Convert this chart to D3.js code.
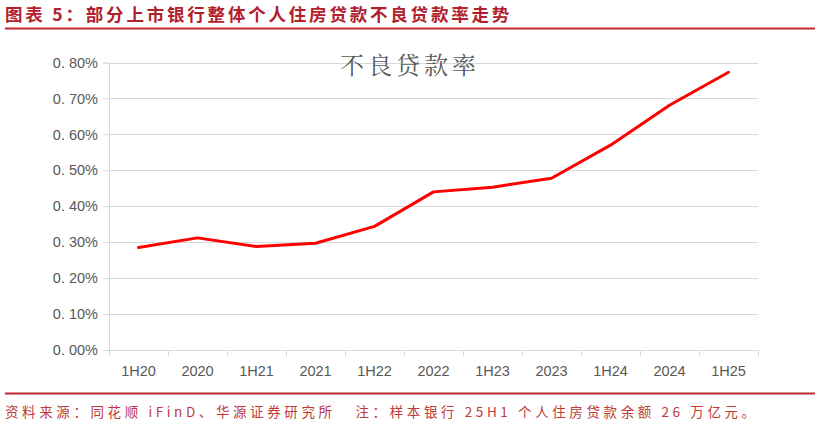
<!DOCTYPE html>
<html><head><meta charset="utf-8">
<script src="https://cdn.jsdelivr.net/npm/d3@7"></script>
<style>
html,body{margin:0;padding:0;background:#fff;}
svg{display:block;}
</style></head>
<body>
<svg id="c" width="815" height="427"></svg>
<script>
const categories = ["1H20","2020","1H21","2021","1H22","2022","1H23","2023","1H24","2024","1H25"];
const nplRate = [0.285,0.312,0.288,0.297,0.344,0.440,0.453,0.478,0.570,0.681,0.773];
const yTicks = [0,0.1,0.2,0.3,0.4,0.5,0.6,0.7,0.8];
const titleText = "图表 5：部分上市银行整体个人住房贷款不良贷款率走势";
const chartTitle = "不良贷款率";
const sourceText = "资料来源：同花顺 iFinD、华源证券研究所   注：样本银行 25H1 个人住房贷款余额 26 万亿元。";

const svg = d3.select("#c");
const red = "#C0282E";
const cjk = "'Noto Sans CJK SC','Noto Sans',sans-serif";

// header
svg.append("text").attr("x",5).attr("y",21).attr("fill","#B2202C")
  .attr("font-family",cjk).attr("font-weight","bold").attr("font-size",17.5)
  .attr("letter-spacing",2.8)
  .text(titleText);
svg.append("line").attr("x1",5).attr("x2",815).attr("y1",28.5).attr("y2",28.5)
  .attr("stroke",red).attr("stroke-width",2);

// footer
svg.append("line").attr("x1",5).attr("x2",815).attr("y1",393.5).attr("y2",393.5)
  .attr("stroke",red).attr("stroke-width",2);
svg.append("text").attr("x",5).attr("y",417).attr("fill","#C0393B")
  .attr("font-family",cjk).attr("font-size",13.5).attr("letter-spacing",3.6)
  .attr("xml:space","preserve").style("white-space","pre")
  .text(sourceText);

const mLeft = 109, mRight = 758, mTop = 62.5, mBottom = 350;
const x = d3.scaleBand().domain(categories).range([mLeft,mRight]).padding(0);
const y = d3.scaleLinear().domain([0,0.8]).range([mBottom,mTop]);

// gridlines
svg.append("g").selectAll("line").data(yTicks.filter(d=>d>0)).join("line")
  .attr("x1",mLeft).attr("x2",mRight)
  .attr("y1",d=>Math.round(y(d))+0.5).attr("y2",d=>Math.round(y(d))+0.5)
  .attr("stroke","#D9D9D9").attr("stroke-width",1);

// y axis
const yAxis = svg.append("g").attr("transform",`translate(${mLeft},0)`)
  .call(d3.axisLeft(y).tickValues(yTicks).tickSize(6).tickFormat(d=>d3.format(".2f")(d).replace(".",". ")+"%"));
yAxis.select(".domain").attr("stroke","#D9D9D9");
yAxis.selectAll(".tick line").attr("stroke","#D9D9D9");
yAxis.selectAll(".tick text").attr("font-family","'Liberation Sans',Arial,sans-serif")
  .attr("font-size",14.5).attr("fill","#595959").attr("x",-11).style("white-space","pre");

// x axis
const xAxis = svg.append("g").attr("transform",`translate(0,${mBottom})`)
  .call(d3.axisBottom(x).tickSize(0).tickPadding(16));
xAxis.select(".domain").attr("stroke","#D9D9D9");
xAxis.selectAll(".tick text").attr("font-family","'Liberation Sans',Arial,sans-serif")
  .attr("font-size",14.5).attr("fill","#595959");
// category boundary ticks
const bounds = categories.map(c=>x(c)).concat([x(categories[categories.length-1])+x.bandwidth()]);
svg.append("g").selectAll("line").data(bounds).join("line")
  .attr("x1",d=>Math.round(d)+0.5).attr("x2",d=>Math.round(d)+0.5)
  .attr("y1",mBottom).attr("y2",mBottom+6)
  .attr("stroke","#D9D9D9");

// chart title
svg.append("text").attr("x",410).attr("y",74).attr("text-anchor","middle")
  .attr("font-family","'Noto Serif CJK SC','Noto Sans CJK SC',serif").attr("font-size",24)
  .attr("fill","#595959").attr("letter-spacing",4).text(chartTitle);

// line
const line = d3.line().x((d,i)=>x(categories[i])+x.bandwidth()/2).y(d=>y(d));
svg.append("path").datum(nplRate).attr("d",line).attr("fill","none")
  .attr("stroke","#FF0000").attr("stroke-width",3).attr("stroke-linejoin","round").attr("stroke-linecap","round");
</script>
</body></html>
